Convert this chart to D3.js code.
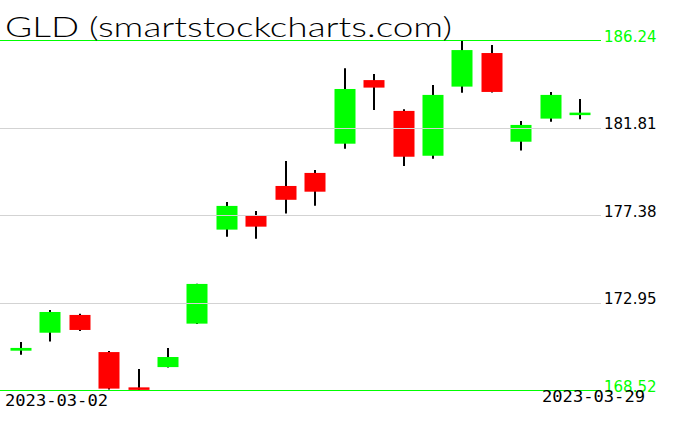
<!DOCTYPE html>
<html><head><meta charset="utf-8">
<script src="https://cdn.jsdelivr.net/npm/d3@7"></script>
<style>html,body{margin:0;padding:0;background:#fff;}svg{display:block;}</style>
</head><body>
<svg id="c" width="676" height="431"></svg>
<script>
const dates = ["2023-03-02","2023-03-03","2023-03-06","2023-03-07","2023-03-08","2023-03-09","2023-03-10","2023-03-13","2023-03-14","2023-03-15","2023-03-16","2023-03-17","2023-03-20","2023-03-21","2023-03-22","2023-03-23","2023-03-24","2023-03-27","2023-03-28","2023-03-29"];
const opens  = [170.51,171.42,172.32,170.44,168.64,169.68,171.88,176.64,177.33,178.85,179.51,180.99,184.21,182.65,180.38,183.88,185.58,181.09,182.26,182.46];
const closes = [170.65,172.47,171.56,168.59,168.54,170.19,173.89,177.84,176.79,178.15,178.56,183.76,183.83,180.33,183.46,185.73,183.61,181.94,183.46,182.54];
const highs  = [170.95,172.57,172.38,170.49,169.58,170.65,173.90,178.04,177.58,180.11,179.66,184.81,184.52,182.73,183.96,186.24,185.99,182.14,183.61,183.25];
const lows   = [170.31,170.97,171.51,168.54,168.52,169.66,171.86,176.28,176.18,177.45,177.85,180.74,182.70,179.86,180.23,183.57,183.58,180.64,182.10,182.23];
const tickValues = [186.24,181.81,177.38,172.95,168.52];
const tickLabels = ["186.24","181.81","177.38","172.95","168.52"];
const title = "GLD (smartstockcharts.com)";

const svg = d3.select("#c");
const x = d3.scalePoint().domain(dates).range([20.7, 580.3]);
const y = d3.scaleLinear().domain([168.52, 186.24]).range([390, 40]);
const bodyW = 21;

const data = dates.map((d,i)=>({d,o:opens[i],c:closes[i],h:highs[i],l:lows[i]}));

const g = svg.append("g");
g.selectAll("line.wick").data(data).enter().append("line")
  .attr("x1",d=>Math.round(x(d.d))).attr("x2",d=>Math.round(x(d.d)))
  .attr("y1",d=>y(d.h)).attr("y2",d=>y(d.l))
  .attr("stroke","#000").attr("stroke-width",2);
g.selectAll("rect.body").data(data).enter().append("rect")
  .attr("x",d=>Math.round(x(d.d))-bodyW/2)
  .attr("width",bodyW)
  .attr("y",d=>{const t=y(Math.max(d.o,d.c)),b=y(Math.min(d.o,d.c));return b-t<2.5?(t+b)/2-1.25:t;})
  .attr("height",d=>Math.max(2.5,y(Math.min(d.o,d.c))-y(Math.max(d.o,d.c))))
  .attr("fill",d=>d.c>=d.o?"#00ff00":"#ff0000");

// grid / boundary lines
tickValues.forEach((v,i)=>{
  const edge = (i===0||i===tickValues.length-1);
  svg.append("line").attr("x1",0).attr("x2",601)
    .attr("y1",Math.round(y(v))+0.5).attr("y2",Math.round(y(v))+0.5)
    .attr("stroke",edge?"#00ff00":"#d3d3d3").attr("stroke-width",1);
  svg.append("text").attr("x",604).attr("y",y(v)+1.5)
    .attr("font-family","DejaVu Sans").attr("font-size",15)
    .attr("fill",edge?"#00ff00":"#000").text(tickLabels[i]);
});

svg.append("text").attr("x",5).attr("y",406)
  .attr("font-family","DejaVu Sans Mono").attr("font-size",16)
  .attr("textLength",103).attr("lengthAdjust","spacingAndGlyphs")
  .text(dates[0]);
svg.append("text").attr("x",542).attr("y",402)
  .attr("font-family","DejaVu Sans Mono").attr("font-size",16)
  .attr("textLength",103).attr("lengthAdjust","spacingAndGlyphs")
  .text(dates[dates.length-1]);

svg.append("text").attr("x",5).attr("y",37)
  .attr("font-family","Lato, 'DejaVu Sans'").attr("font-weight",300).attr("font-size",27)
  .attr("textLength",447).attr("lengthAdjust","spacingAndGlyphs")
  .attr("fill","#000").text(title);
</script>
</body></html>
